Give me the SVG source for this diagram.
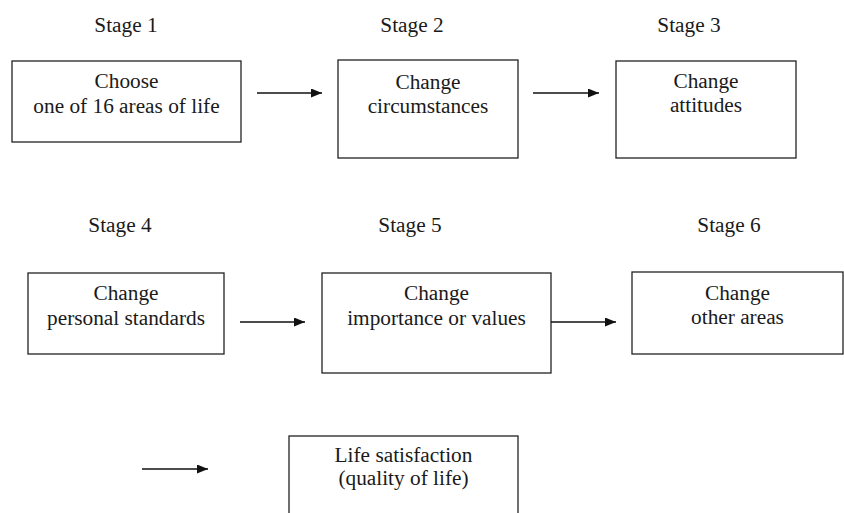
<svg xmlns="http://www.w3.org/2000/svg" width="844" height="513" viewBox="0 0 844 513">
<style>
text{font-family:"Liberation Serif","Times New Roman",serif;font-size:21.3px;fill:#1a1a1a;text-anchor:middle}
.box{fill:#fff;stroke:#222;stroke-width:1.3}
.conn{stroke:#111;stroke-width:1.3;fill:none}
</style>
<defs>
<marker id="ah" viewBox="0 0 11 9" refX="11" refY="4.5" markerWidth="11" markerHeight="9" markerUnits="userSpaceOnUse" orient="auto">
<path d="M0,0 L11,4.5 L0,9 Z" fill="#111"/>
</marker>
</defs>
<rect width="844" height="513" fill="#fff"/>
<g id="labels">
<text x="126" y="32">Stage 1</text>
<text x="412" y="32">Stage 2</text>
<text x="689" y="32">Stage 3</text>
<text x="120" y="232">Stage 4</text>
<text x="410" y="232">Stage 5</text>
<text x="729" y="232">Stage 6</text>
</g>
<g id="n1"><rect class="box" x="12" y="61" width="229" height="81"/><text x="126.5" y="88">Choose</text><text x="126.5" y="113">one of 16 areas of life</text></g>
<g id="n2"><rect class="box" x="338" y="60" width="180" height="98"/><text x="428" y="89">Change</text><text x="428" y="113">circumstances</text></g>
<g id="n3"><rect class="box" x="616" y="61" width="180" height="97"/><text x="706" y="88">Change</text><text x="706" y="112">attitudes</text></g>
<g id="n4"><rect class="box" x="28" y="273" width="196" height="81"/><text x="126" y="300">Change</text><text x="126" y="325">personal standards</text></g>
<g id="n5"><rect class="box" x="322" y="273" width="229" height="100"/><text x="436.5" y="300">Change</text><text x="436.5" y="325">importance or values</text></g>
<g id="n6"><rect class="box" x="632" y="272" width="211" height="82"/><text x="737.5" y="300">Change</text><text x="737.5" y="324">other areas</text></g>
<g id="n7"><rect class="box" x="289" y="436" width="229" height="100"/><text x="403.5" y="462">Life satisfaction</text><text x="403.5" y="485">(quality of life)</text></g>
<g id="connectors">
<line class="conn" x1="257" y1="93" x2="322" y2="93" marker-end="url(#ah)"/>
<line class="conn" x1="533" y1="93" x2="599" y2="93" marker-end="url(#ah)"/>
<line class="conn" x1="240" y1="322" x2="305" y2="322" marker-end="url(#ah)"/>
<line class="conn" x1="551" y1="322" x2="616" y2="322" marker-end="url(#ah)"/>
<line class="conn" x1="142" y1="469" x2="208" y2="469" marker-end="url(#ah)"/>
</g>
</svg>
